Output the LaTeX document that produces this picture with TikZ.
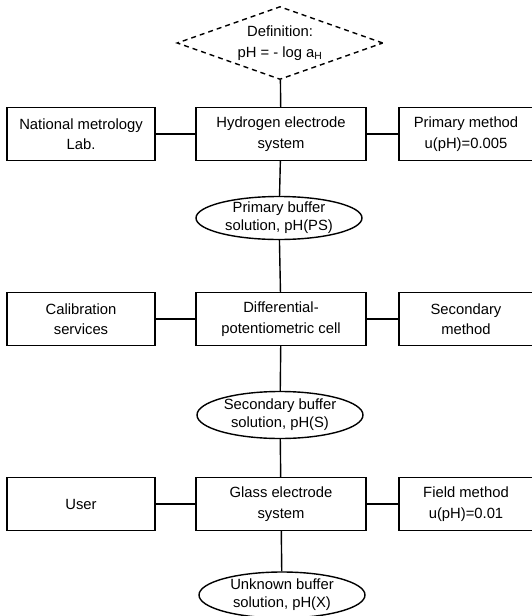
\documentclass[tikz,border=0pt]{standalone}
\usepackage{fontspec}
\setmainfont{Liberation Sans}
\usepackage{tikz}
\usetikzlibrary{positioning, shapes.geometric}

\begin{document}
\begin{tikzpicture}[x=1pt, y=-1pt, line width=1.4pt,
    every node/.style={font=\fontsize{14.8}{20.5}\selectfont, align=center},
    block/.style={draw, rectangle, minimum height=53pt, inner sep=2pt},
    buffer/.style={draw, ellipse, font=\fontsize{14.8}{18}\selectfont,
      minimum width=166pt, inner xsep=0pt, inner ysep=-6pt},
    defn/.style={draw, diamond, dash pattern=on 5pt off 4pt, aspect=2.85,
      minimum width=206pt, minimum height=73pt, inner sep=0pt}]
  \useasboundingbox (0,0) rectangle (531,616);
  % middle column
  \node[defn] (def) at (280,43) {Definition:\\pH = - log a\textsubscript{H}};
  \node[block, minimum width=170pt] (hyd) at (281,134) {Hydrogen electrode\\system};
  \node[buffer, minimum height=43pt] (ps) at (279,218) {Primary buffer\\solution, pH(PS)};
  \node[block, minimum width=170pt] (diff) at (281,319) {Differential-\\potentiometric cell};
  \node[buffer, minimum height=47pt] (sb) at (280,415) {Secondary buffer\\solution, pH(S)};
  \node[block, minimum width=170pt] (glass) at (281,504) {Glass electrode\\system};
  \node[buffer, minimum height=46pt] (xb) at (282,595) {Unknown buffer\\solution, pH(X)};
  % left and right columns
  \node[block, minimum width=148pt] (nml) at (81,134) {National metrology\\Lab.};
  \node[block, minimum width=134pt] (prim) at (466,134) {Primary method\\u(pH)=0.005};
  \node[block, minimum width=148pt] (cal) at (81,319) {Calibration\\services};
  \node[block, minimum width=134pt] (sec) at (466,319) {Secondary\\method};
  \node[block, minimum width=148pt] (user) at (81,504) {User};
  \node[block, minimum width=134pt] (field) at (466,504) {Field method\\u(pH)=0.01};
  % connectors
  \draw (def) -- (hyd) -- (ps) -- (diff) -- (sb) -- (glass) -- (xb);
  \draw (nml) -- (hyd) -- (prim);
  \draw (cal) -- (diff) -- (sec);
  \draw (user) -- (glass) -- (field);
\end{tikzpicture}
\end{document}
